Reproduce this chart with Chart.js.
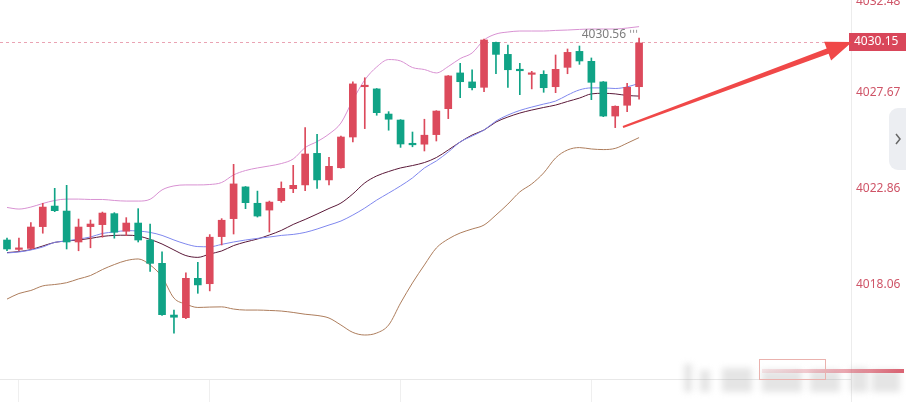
<!DOCTYPE html>
<html>
<head>
<meta charset="utf-8">
<script src="https://cdn.jsdelivr.net/npm/chart.js@4"></script>
<style>
  html, body { margin: 0; padding: 0; background: #fff; }
  #wrap { width: 906px; height: 402px; position: relative; }
</style>
</head>
<body>
<div id="wrap"><canvas id="kline" width="906" height="402"></canvas></div>
<script>
// candles, oldest first
const opens = [
  4020.28, 4019.81, 4019.86, 4020.95, 4021.98, 4021.73, 4020.18, 4020.95, 4021.05, 4021.60,
  4020.72, 4021.13, 4020.28, 4019.11, 4016.52, 4016.39, 4018.36, 4018.09, 4020.45, 4021.35,
  4022.94, 4022.12, 4021.78, 4022.25, 4022.85, 4023.04, 4024.62, 4023.29, 4023.90, 4025.44,
  4027.96, 4027.85, 4026.59, 4026.29, 4025.09, 4025.08, 4025.56, 4026.86, 4028.65, 4028.20,
  4027.93, 4030.18, 4029.58, 4028.80, 4028.58, 4028.58, 4027.96, 4028.93, 4029.73, 4029.23,
  4028.20, 4026.49, 4027.03, 4027.96
];
const closes = [
  4019.83, 4019.88, 4020.93, 4021.93, 4021.75, 4020.18, 4020.93, 4021.08, 4021.63, 4020.67,
  4021.13, 4020.28, 4019.11, 4016.54, 4016.41, 4018.36, 4018.03, 4020.42, 4021.27, 4023.09,
  4022.15, 4021.48, 4022.18, 4022.87, 4023.02, 4024.59, 4023.29, 4023.97, 4025.44, 4028.10,
  4028.03, 4026.66, 4026.33, 4025.09, 4025.05, 4025.53, 4026.74, 4028.50, 4028.21, 4027.91,
  4030.30, 4029.58, 4028.81, 4028.76, 4028.61, 4027.91, 4028.83, 4029.68, 4029.25, 4028.18,
  4026.49, 4026.98, 4027.93, 4030.15
];
const highs = [
  4020.37, 4020.38, 4021.15, 4022.12, 4022.87, 4023.02, 4021.33, 4021.28, 4021.68, 4021.65,
  4021.40, 4021.85, 4021.08, 4019.69, 4016.77, 4018.64, 4019.16, 4020.55, 4021.35, 4024.07,
  4022.96, 4022.73, 4022.23, 4023.19, 4024.02, 4025.91, 4025.58, 4024.42, 4025.49, 4028.21,
  4028.41, 4027.87, 4026.71, 4026.31, 4025.69, 4026.33, 4026.76, 4028.52, 4029.13, 4028.80,
  4030.34, 4030.20, 4030.05, 4029.13, 4028.73, 4028.76, 4029.55, 4029.85, 4030.00, 4029.40,
  4028.22, 4027.00, 4028.13, 4030.39
];
const lows = [
  4019.74, 4019.74, 4019.83, 4020.62, 4021.70, 4019.83, 4019.74, 4019.89, 4020.42, 4020.37,
  4020.50, 4020.18, 4018.71, 4016.50, 4015.61, 4016.34, 4017.61, 4017.73, 4020.03, 4020.58,
  4021.85, 4021.43, 4020.68, 4022.17, 4022.65, 4022.75, 4022.87, 4023.04, 4023.88, 4025.19,
  4025.86, 4026.53, 4025.78, 4024.92, 4024.95, 4024.74, 4025.24, 4026.36, 4027.41, 4027.80,
  4027.71, 4028.61, 4027.93, 4027.56, 4027.85, 4027.68, 4027.66, 4028.61, 4029.08, 4027.31,
  4026.46, 4025.91, 4026.71, 4027.33
];

// indicator lines
const bollUpper = [
  4021.91, 4021.83, 4021.93, 4022.11, 4022.26, 4022.33, 4022.33, 4022.31, 4022.31, 4022.26,
  4022.23, 4022.23, 4022.32, 4022.79, 4022.99, 4023.04, 4023.04, 4023.06, 4023.16, 4023.54,
  4023.76, 4023.89, 4023.99, 4024.11, 4024.34, 4024.91, 4025.21, 4025.59, 4026.14, 4027.29,
  4028.30, 4028.95, 4029.32, 4029.25, 4028.92, 4028.82, 4028.65, 4028.97, 4029.37, 4029.65,
  4030.30, 4030.60, 4030.70, 4030.75, 4030.75, 4030.75, 4030.78, 4030.80, 4030.83, 4030.85,
  4030.85, 4030.85, 4030.90, 4030.97
];
const bollLower = [
  4017.32, 4017.60, 4017.75, 4017.98, 4018.05, 4018.14, 4018.33, 4018.50, 4018.80, 4019.05,
  4019.25, 4019.33, 4019.03, 4018.43, 4017.37, 4017.07, 4016.90, 4016.92, 4016.93, 4016.82,
  4016.77, 4016.77, 4016.75, 4016.72, 4016.65, 4016.56, 4016.50, 4016.37, 4016.02, 4015.65,
  4015.52, 4015.62, 4016.02, 4017.12, 4018.13, 4019.03, 4019.88, 4020.33, 4020.63, 4020.83,
  4021.03, 4021.53, 4022.08, 4022.69, 4023.09, 4023.64, 4024.39, 4024.79, 4024.91, 4024.84,
  4024.81, 4024.87, 4025.13, 4025.41
];
const maDark = [
  4019.65, 4019.70, 4019.80, 4019.98, 4020.16, 4020.23, 4020.28, 4020.36, 4020.46, 4020.51,
  4020.52, 4020.48, 4020.31, 4020.08, 4019.78, 4019.50, 4019.41, 4019.58, 4019.73, 4020.00,
  4020.18, 4020.33, 4020.53, 4020.76, 4021.06, 4021.31, 4021.58, 4021.86, 4022.13, 4022.59,
  4023.14, 4023.49, 4023.71, 4023.89, 4024.01, 4024.16, 4024.41, 4024.79, 4025.19, 4025.54,
  4025.79, 4026.19, 4026.44, 4026.64, 4026.79, 4026.92, 4027.04, 4027.22, 4027.39, 4027.60,
  4027.63, 4027.60, 4027.52, 4027.49
];
const maBlue = [
  4019.63, 4019.68, 4019.78, 4019.93, 4020.16, 4020.23, 4020.33, 4020.43, 4020.61, 4020.68,
  4020.75, 4020.73, 4020.66, 4020.51, 4020.28, 4020.08, 4019.95, 4019.94, 4020.06, 4020.18,
  4020.28, 4020.36, 4020.43, 4020.51, 4020.56, 4020.66, 4020.83, 4021.03, 4021.23, 4021.53,
  4021.88, 4022.28, 4022.63, 4022.99, 4023.39, 4023.89, 4024.24, 4024.69, 4025.19, 4025.49,
  4025.79, 4026.24, 4026.54, 4026.77, 4026.94, 4027.09, 4027.24, 4027.54, 4027.80, 4027.90,
  4027.90, 4027.87, 4027.95, 4028.13
];

const priceTicks = [4032.48, 4027.67, 4022.86, 4018.06];
const timeTicks = [1, 17, 33, 49];
const lastPrice = 4030.15;
const highMark = 4030.56;

const RED = "#dc4a5c";
const GREEN = "#10a386";
const FONT = "12px 'Noto Sans', 'Liberation Sans', sans-serif";

const idx = opens.map((_, i) => i);
const up = idx.map(i => closes[i] >= opens[i]);
const candleColors = up.map(u => (u ? RED : GREEN));
const pts = arr => arr.map((v, i) => ({ x: i, y: v }));

function lineSet(data, color) {
  return {
    type: "line",
    data: pts(data),
    borderColor: color,
    borderWidth: 1,
    pointRadius: 0,
    cubicInterpolationMode: "monotone",
    fill: false,
    order: 3
  };
}

const overlay = {
  id: "overlay",
  beforeDatasetsDraw(chart) {
    const { ctx, chartArea, scales: { y } } = chart;
    const py = Math.round(y.getPixelForValue(lastPrice)) - 0.5;
    ctx.save();
    ctx.strokeStyle = "#eaa3b3";
    ctx.lineWidth = 1;
    ctx.setLineDash([3, 3]);
    ctx.beginPath();
    ctx.moveTo(chartArea.left, py);
    ctx.lineTo(chartArea.right, py);
    ctx.stroke();
    ctx.restore();
  },
  afterDraw(chart) {
    const { ctx, chartArea, scales: { x, y } } = chart;
    const right = chartArea.right;
    ctx.save();

    // right axis border
    ctx.strokeStyle = "#ececec";
    ctx.lineWidth = 1;
    ctx.beginPath();
    ctx.moveTo(right + 0.5, 0);
    ctx.lineTo(right + 0.5, chart.height);
    ctx.stroke();

    // price labels (top one is half cut by the frame edge)
    ctx.font = FONT;
    ctx.textBaseline = "middle";
    ctx.textAlign = "left";
    ctx.fillStyle = "#cf5568";
    priceTicks.forEach(v => ctx.fillText(v.toFixed(2), right + 5, Math.max(y.getPixelForValue(v), 2)));

    // current price tag
    const py = y.getPixelForValue(lastPrice) - 1;
    ctx.fillStyle = "#d9465a";
    ctx.fillRect(right - 2, py - 9, chart.width - right + 2, 18);
    ctx.fillStyle = "#fff";
    ctx.fillText(lastPrice.toFixed(2), right + 3, py);

    // high marker text
    const lx = x.getPixelForValue(opens.length - 1);
    const hy = y.getPixelForValue(highMark);
    ctx.fillStyle = "#7d7d7d";
    ctx.textAlign = "right";
    ctx.fillText(highMark.toFixed(2), lx - 13, hy);
    ctx.fillStyle = "#9a9a9a";
    [-9, -6, -3].forEach(dx => ctx.fillRect(lx + dx, hy - 5, 1, 3));

    // red arrow
    const x0 = 623, y0 = 127, tx = 852, ty = 42;
    const dx = tx - x0, dy = ty - y0, len = Math.hypot(dx, dy);
    const ux = dx / len, uy = dy / len, nx = -uy, ny = ux;
    const bx = tx - ux * 26, by = ty - uy * 26;
    ctx.fillStyle = "#f04848";
    ctx.beginPath();
    ctx.moveTo(x0 + nx * 1, y0 + ny * 1);
    ctx.lineTo(bx + nx * 2.8, by + ny * 2.8);
    ctx.lineTo(bx + nx * 10, by + ny * 10);
    ctx.lineTo(tx, ty);
    ctx.lineTo(bx - nx * 10, by - ny * 10);
    ctx.lineTo(bx - nx * 2.8, by - ny * 2.8);
    ctx.lineTo(x0 - nx * 1, y0 - ny * 1);
    ctx.closePath();
    ctx.fill();

    // side tab
    ctx.fillStyle = "#eceef2";
    ctx.beginPath();
    ctx.roundRect(889, 108, 30, 62, 9);
    ctx.fill();
    ctx.strokeStyle = "#666";
    ctx.lineWidth = 1.5;
    ctx.beginPath();
    ctx.moveTo(896, 134);
    ctx.lineTo(900, 139);
    ctx.lineTo(896, 144);
    ctx.stroke();

    // blurred bottom-right widget
    ctx.filter = "blur(3px)";
    ctx.fillStyle = "rgba(160,160,160,0.28)";
    [[684, 364, 8, 28], [700, 370, 10, 22], [722, 368, 30, 24], [762, 370, 40, 22],
     [810, 370, 30, 22], [850, 368, 18, 24], [872, 370, 28, 22]].forEach(r => ctx.fillRect(...r));
    ctx.filter = "none";
    const g = ctx.createLinearGradient(760, 0, 904, 0);
    g.addColorStop(0, "rgba(230,150,160,0.2)");
    g.addColorStop(1, "rgba(210,60,80,0.8)");
    ctx.fillStyle = g;
    ctx.fillRect(762, 369, 142, 4);
    ctx.strokeStyle = "#eab2ae";
    ctx.lineWidth = 1;
    ctx.strokeRect(759.5, 359.5, 66, 20);

    ctx.restore();
  }
};

new Chart(document.getElementById("kline"), {
  type: "bar",
  data: {
    datasets: [
      lineSet(bollUpper, "#d891d2"),
      lineSet(bollLower, "#ad7d5c"),
      lineSet(maBlue, "#7f87ee"),
      lineSet(maDark, "#5a1838"),
      {
        data: idx.map(i => ({ x: i, y: [lows[i], highs[i]] })),
        backgroundColor: candleColors,
        barThickness: 1,
        grouped: false,
        order: 2
      },
      {
        data: idx.map(i => ({ x: i, y: [opens[i], closes[i]] })),
        backgroundColor: candleColors,
        barThickness: 7,
        minBarLength: 1.5,
        grouped: false,
        order: 1
      }
    ]
  },
  options: {
    responsive: false,
    animation: false,
    devicePixelRatio: 1,
    layout: { padding: { left: 0, right: 55, top: 0, bottom: 0 } },
    plugins: { legend: { display: false }, tooltip: { enabled: false } },
    scales: {
      x: {
        type: "linear",
        offset: false,
        min: -0.587,
        max: 70.77,
        ticks: { display: false },
        afterBuildTicks: s => { s.ticks = timeTicks.map(v => ({ value: v })); },
        grid: { drawOnChartArea: false, tickLength: 23, color: "#efefef", offset: false },
        border: { color: "#e8e8e8" }
      },
      y: {
        type: "linear",
        display: false,
        min: 4013.316,
        max: 4032.304
      }
    }
  },
  plugins: [overlay]
});
</script>
</body>
</html>
